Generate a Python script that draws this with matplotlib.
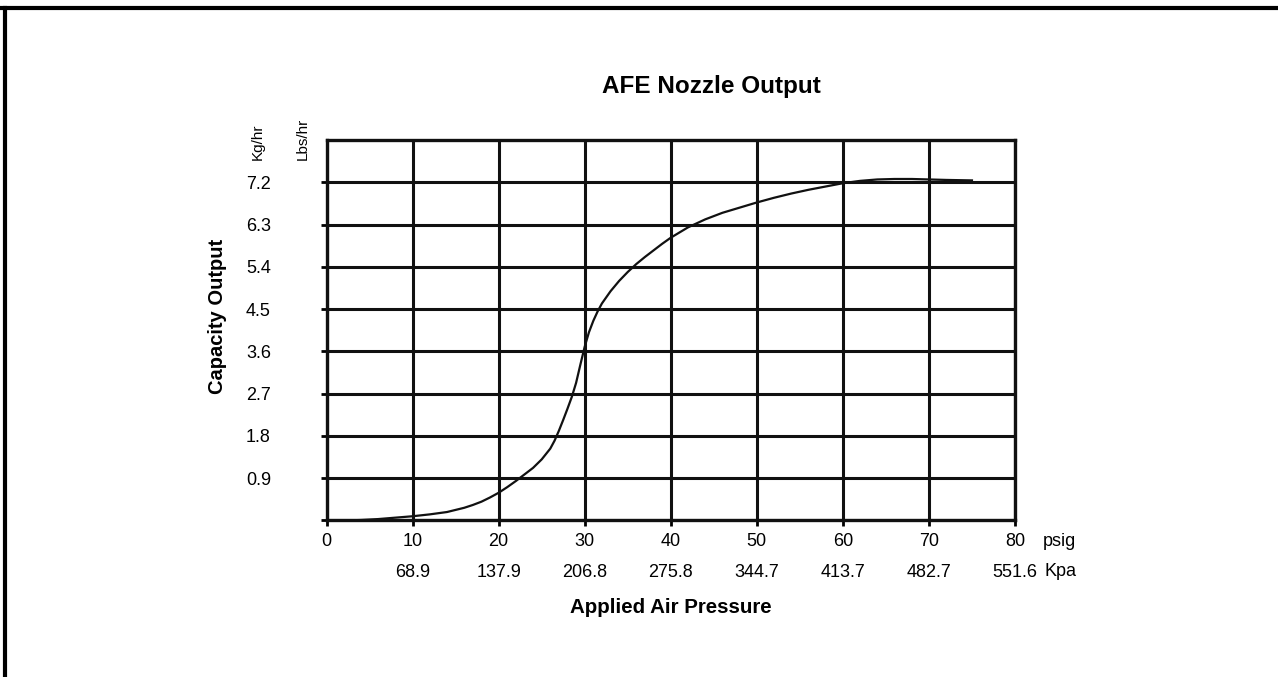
import numpy as np
import matplotlib
matplotlib.use("Agg")
import matplotlib.pyplot as plt
from matplotlib.lines import Line2D

plt.rcParams['font.family'] = ['Liberation Sans', 'DejaVu Sans']

# curve: applied pressure (psig) vs capacity (Kg/hr)
psig = [0, 2, 4, 6, 8, 10, 12, 14, 16, 17, 18, 19, 20, 21, 22, 23, 24, 25, 26,
        26.5, 27, 27.5, 28, 28.5, 29, 29.5, 30, 30.5, 31, 31.5, 32, 33, 34, 35,
        36, 37, 38, 39, 40, 42, 44, 46, 48, 50, 52, 54, 56, 58, 60, 62, 64, 66,
        68, 70, 72, 75]
kg_hr = [0, 0.0, 0.01, 0.03, 0.06, 0.09, 0.13, 0.18, 0.27, 0.33, 0.40, 0.49,
         0.59, 0.71, 0.84, 0.98, 1.12, 1.30, 1.53, 1.70, 1.91, 2.14, 2.38, 2.63,
         2.93, 3.32, 3.70, 4.01, 4.25, 4.45, 4.62, 4.88, 5.10, 5.29, 5.46, 5.61,
         5.75, 5.89, 6.02, 6.24, 6.41, 6.55, 6.66, 6.77, 6.87, 6.96, 7.04, 7.11,
         7.18, 7.23, 7.26, 7.27, 7.27, 7.26, 7.25, 7.24]

x_ticks = [0, 10, 20, 30, 40, 50, 60, 70, 80]
psig_labels = ['0', '10', '20', '30', '40', '50', '60', '70', '80']
kpa_ticks = [10, 20, 30, 40, 50, 60, 70, 80]
kpa_labels = ['68.9', '137.9', '206.8', '275.8', '344.7', '413.7', '482.7', '551.6']
y_ticks = [0, 0.9, 1.8, 2.7, 3.6, 4.5, 5.4, 6.3, 7.2]
y_labels = ['', '0.9', '1.8', '2.7', '3.6', '4.5', '5.4', '6.3', '7.2']

fig = plt.figure(figsize=(12.78, 6.77), dpi=100)
ax = fig.add_axes([0.2555, 0.2312, 0.5387, 0.5620])

ax.plot(psig, kg_hr, color='#111111', lw=1.6, zorder=3, solid_joinstyle='round')

ax.set_xlim(0, 80)
ax.set_ylim(0, 8.1)
ax.set_xticks(x_ticks)
ax.set_xticklabels(psig_labels, fontsize=13)
ax.set_yticks(y_ticks)
ax.set_yticklabels(y_labels, fontsize=13)
ax.tick_params(axis='y', direction='out', length=4, width=2, pad=36)
ax.tick_params(axis='x', direction='out', length=4, width=2, pad=5)
ax.grid(True, color='#111111', lw=2.2)
for s in ax.spines.values():
    s.set_color('#111111')
    s.set_linewidth(2.4)

# second row of x labels (kPa)
ax2 = ax.twiny()
ax2.set_xlim(0, 80)
ax2.xaxis.set_ticks_position('bottom')
ax2.set_xticks(kpa_ticks)
ax2.set_xticklabels(kpa_labels, fontsize=13)
ax2.tick_params(axis='x', length=0, pad=31)
for s in ax2.spines.values():
    s.set_visible(False)

ax.set_xlabel('Applied Air Pressure', fontsize=14.8, fontweight='bold', va='center')
ax.xaxis.set_label_coords(0.5, -0.23)
ax.set_ylabel('Capacity Output', fontsize=14.5, fontweight='bold', va='center')
ax.yaxis.set_label_coords(-0.159, 0.535)

fig.text(0.5563, 0.8715, 'AFE Nozzle Output', fontsize=17.5, fontweight='bold',
         ha='center', va='center')
fig.text(258 / 1278, 0.7637, 'Kg/hr', fontsize=11, rotation=90, ha='center', va='bottom')
fig.text(303 / 1278, 0.7637, 'Lbs/hr', fontsize=11, rotation=90, ha='center', va='bottom')
fig.text(1043 / 1278, 1 - 541 / 677, 'psig', fontsize=13, ha='left', va='center')
fig.text(1045 / 1278, 1 - 572 / 677, 'Kpa', fontsize=13, ha='left', va='center')

# page border (top and left only)
fig.add_artist(Line2D([0, 1], [0.988, 0.988], color='black', lw=3, transform=fig.transFigure))
fig.add_artist(Line2D([0.0039, 0.0039], [0, 0.988], color='black', lw=3, transform=fig.transFigure))

fig.savefig('out.png', dpi=100)
